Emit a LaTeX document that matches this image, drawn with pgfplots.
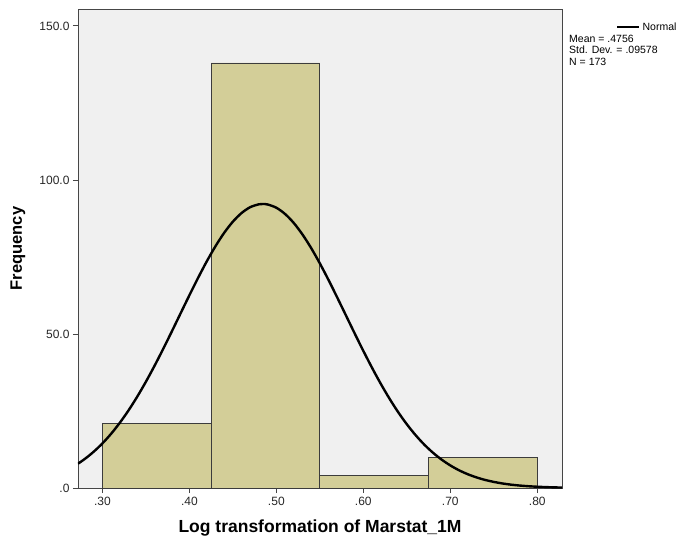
\documentclass[border=0pt]{standalone}
\usepackage{pgfplots}
\pgfplotsset{compat=1.18}
\usepackage{fontspec}
\setmainfont{Liberation Sans}
\definecolor{barfill}{RGB}{211,206,152}
\definecolor{plotbg}{RGB}{240,240,240}
\definecolor{edge}{RGB}{60,60,60}
\definecolor{frame}{RGB}{70,70,70}

\begin{document}
\begin{tikzpicture}
\useasboundingbox (-78pt,-55pt) rectangle (606pt,488pt);
\begin{axis}[
  at={(0,0)}, anchor=south west,
  scale only axis, width=484pt, height=479pt,
  xmin=0.272, xmax=0.8284, ymin=0, ymax=155.5,
  clip mode=individual,
  axis background/.style={fill=plotbg},
  axis line style={draw=frame, line width=0.9pt},
  xtick={0.3,0.4,0.5,0.6,0.7,0.8},
  xticklabels={.30,.40,.50,.60,.70,.80},
  ytick={0,50,100,150},
  yticklabels={.0,50.0,100.0,150.0},
  xtick pos=left, ytick pos=left,
  tick align=outside, major tick length=5pt,
  tick style={draw=frame, line width=0.9pt},
  ticklabel style={font=\fontsize{12}{14}\selectfont, text=black!85},
  xticklabel style={yshift=-1pt},
  xlabel={Log transformation of Marstat\_1M},
  ylabel={Frequency},
  xlabel style={at={(axis description cs:0.5,-0.0835)}, anchor=center,
    font=\fontsize{17.5}{20}\selectfont\bfseries},
  ylabel style={at={(axis description cs:-0.124,0.5)}, anchor=center, rotate=0,
    font=\fontsize{16.5}{19}\selectfont\bfseries},
  legend style={at={(axis description cs:1.1116,0.9624)}, anchor=west,
    draw=none, fill=none, inner sep=0pt, font=\fontsize{10.5}{12}\selectfont,
    legend cell align=left},
  legend image code/.code={\draw[black, line width=2.4pt] (0pt,0pt) -- (22pt,0pt);},
]
% histogram bins of width .125
\addplot[ybar interval, fill=barfill, draw=edge, line width=0.8pt, forget plot]
  coordinates {(0.300,21) (0.425,138) (0.550,4) (0.675,10) (0.800,10)};
% fitted normal curve
\addplot[black, line width=2.4pt, smooth] coordinates {
(0.272,7.89) (0.28,9.47) (0.29,11.77) (0.30,14.46) (0.31,17.58) (0.32,21.15)
(0.33,25.16) (0.34,29.61) (0.35,34.47) (0.36,39.68) (0.37,45.20) (0.38,50.91)
(0.39,56.74) (0.40,62.54) (0.41,68.19) (0.42,73.56) (0.43,78.47) (0.44,82.82)
(0.45,86.45) (0.46,89.26) (0.47,91.17) (0.48,92.10) (0.4844,92.20) (0.49,92.04)
(0.50,90.99) (0.51,88.96) (0.52,86.05) (0.53,82.32) (0.54,77.91) (0.55,72.93)
(0.56,67.53) (0.57,61.85) (0.58,56.04) (0.59,50.22) (0.60,44.52) (0.61,39.04)
(0.62,33.86) (0.63,29.05) (0.64,24.65) (0.65,20.70) (0.66,17.19) (0.67,14.11)
(0.68,11.47) (0.69,9.22) (0.70,7.33) (0.71,5.76) (0.72,4.48) (0.73,3.45)
(0.74,2.62) (0.75,1.98) (0.76,1.47) (0.77,1.08) (0.78,0.79) (0.79,0.57)
(0.80,0.41) (0.81,0.29) (0.82,0.20) (0.8284,0.15)};
\addlegendentry{Normal}
\node[anchor=north west, align=left, inner sep=0pt,
      font=\fontsize{10.5}{11.5}\selectfont]
  at (axis description cs:1.0145,0.946)
  {Mean = .4756\\Std. Dev. = .09578\\N = 173};
\end{axis}
\end{tikzpicture}
\end{document}
